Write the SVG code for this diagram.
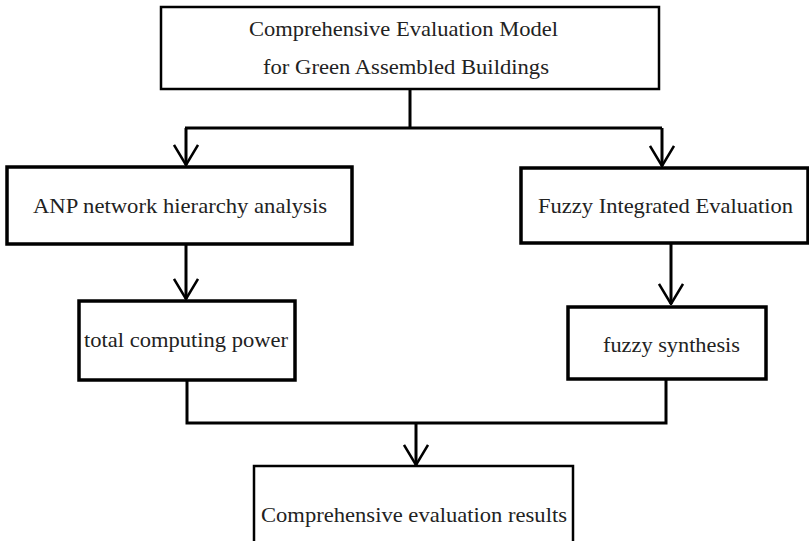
<svg xmlns="http://www.w3.org/2000/svg" width="809" height="541" viewBox="0 0 809 541">
<defs>
<style>
.box{fill:#fff;stroke:#000;stroke-width:3.5}
.thin{stroke-width:2.5}
.t{font-family:"Liberation Serif","Times New Roman",serif;font-size:22px;fill:#222}
.c{fill:none;stroke:#000;stroke-width:3}
</style>
<marker id="v" viewBox="0 0 22 26" refX="21" refY="13" markerWidth="22" markerHeight="26" markerUnits="userSpaceOnUse" orient="auto">
<path d="M1,1 L21,13 L1,25" fill="none" stroke="#000" stroke-width="2.5"/>
</marker>
</defs>
<rect width="809" height="541" fill="#fff"/>
<g id="connectors">
<path class="c" d="M410,89 V128 M185,128 H662"/>
<path class="c" d="M186,128 V165" marker-end="url(#v)"/>
<path class="c" d="M662,128 V166" marker-end="url(#v)"/>
<path class="c" d="M186,244 V299" marker-end="url(#v)"/>
<path class="c" d="M671,243 V304" marker-end="url(#v)"/>
<path class="c" d="M187,380 V423 H666 V379"/>
<path class="c" d="M416,423 V465" marker-end="url(#v)"/>
</g>
<g id="top">
<rect class="box thin" x="161" y="7" width="498" height="82"/>
<text class="t" x="249" y="36" textLength="309" lengthAdjust="spacingAndGlyphs">Comprehensive Evaluation Model</text>
<text class="t" x="263" y="74" textLength="286" lengthAdjust="spacingAndGlyphs">for Green Assembled Buildings</text>
</g>
<g id="anp">
<rect class="box" x="7" y="167" width="345" height="77"/>
<text class="t" x="33" y="213" textLength="294" lengthAdjust="spacingAndGlyphs">ANP network hierarchy analysis</text>
</g>
<g id="fuzzy">
<rect class="box" x="521" y="168" width="287" height="75"/>
<text class="t" x="538" y="213" textLength="255" lengthAdjust="spacingAndGlyphs">Fuzzy Integrated Evaluation</text>
</g>
<g id="total">
<rect class="box" x="79" y="301" width="216" height="79"/>
<text class="t" x="84" y="347" textLength="204" lengthAdjust="spacingAndGlyphs">total computing power</text>
</g>
<g id="synthesis">
<rect class="box" x="568" y="307" width="198" height="72"/>
<text class="t" x="603" y="352" textLength="137" lengthAdjust="spacingAndGlyphs">fuzzy synthesis</text>
</g>
<g id="results">
<rect class="box thin" x="254" y="466" width="319" height="100"/>
<text class="t" x="261" y="522" textLength="306" lengthAdjust="spacingAndGlyphs">Comprehensive evaluation results</text>
</g>
</svg>
